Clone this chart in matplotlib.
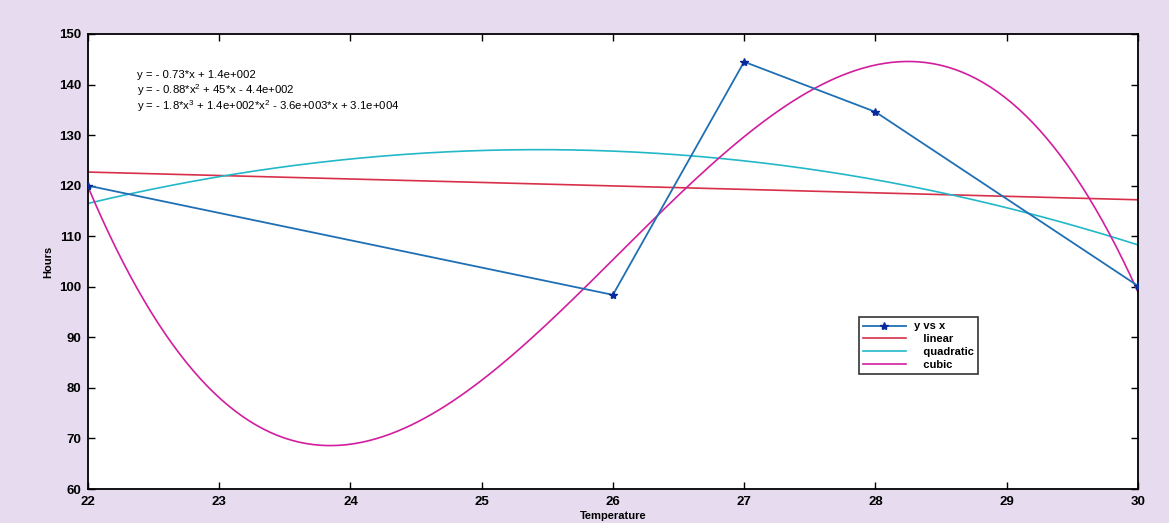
import matplotlib
matplotlib.use("Agg")
import matplotlib.pyplot as plt
import numpy as np

# data points
temperature = [22, 26, 27, 28, 30]
hours = [120, 98.4, 144.5, 134.6, 100.2]

fit_labels = ["y vs x", "   linear", "   quadratic", "   cubic"]
fit_degrees = [1, 2, 3]
fit_colors = ["#d8304a", "#22b8c8", "#d21e9e"]
equations = [
    r"y = - 0.73*x + 1.4e+002",
    r"y = - 0.88*x$^2$ + 45*x - 4.4e+002",
    r"y = - 1.8*x$^3$ + 1.4e+002*x$^2$ - 3.6e+003*x + 3.1e+004",
]

plt.rcParams["font.family"] = ["Liberation Sans", "DejaVu Sans"]
plt.rcParams["mathtext.fontset"] = "custom"
plt.rcParams["mathtext.rm"] = "Liberation Sans"

fig = plt.figure(figsize=(11.69, 5.23), dpi=100)
fig.patch.set_facecolor("#e6dbef")
ax = fig.add_axes([0.0753, 0.065, 0.898, 0.870])
ax.set_facecolor("white")

x = np.asarray(temperature, float)
y = np.asarray(hours, float)
xs = np.linspace(x.min(), x.max(), 300)

ax.plot(x, y, color="#1f6fb4", lw=1.3, marker="*", ms=6,
        mfc="#0a2a9a", mec="#0a2a9a", label=fit_labels[0], zorder=4)
for lab, deg, col in zip(fit_labels[1:], fit_degrees, fit_colors):
    coef = np.polyfit(x, y, deg)
    ax.plot(xs, np.polyval(coef, xs), color=col, lw=1.2, label=lab)

for i, eq in enumerate(equations):
    ax.text(22.37, 141.9 - 3.05 * i, eq, fontsize=8.2, ha="left", va="center")

ax.set_xlim(22, 30)
ax.set_ylim(60, 150)
ax.set_xticks(range(22, 31))
ax.set_yticks(range(60, 151, 10))
ax.tick_params(direction="in", top=True, right=True, length=5, width=1,
               labelsize=9.5, pad=5)
for lbl in ax.get_xticklabels() + ax.get_yticklabels():
    lbl.set_fontweight("bold")
for s in ax.spines.values():
    s.set_linewidth(1.3)

ax.set_xlabel("Temperature", fontsize=8, fontweight="bold", labelpad=2)
ax.set_ylabel("Hours", fontsize=8, fontweight="bold", labelpad=4)

leg = ax.legend(loc="lower left", bbox_to_anchor=(0.729, 0.24, 0.124, 0.138),
                mode="expand", frameon=True, fancybox=False,
                borderpad=0.4, labelspacing=0.25, handlelength=3.8,
                prop={"weight": "bold", "size": 8})
leg.get_frame().set_edgecolor("black")
leg.get_frame().set_linewidth(1.2)

fig.savefig("out.png", dpi=100, facecolor=fig.get_facecolor())
